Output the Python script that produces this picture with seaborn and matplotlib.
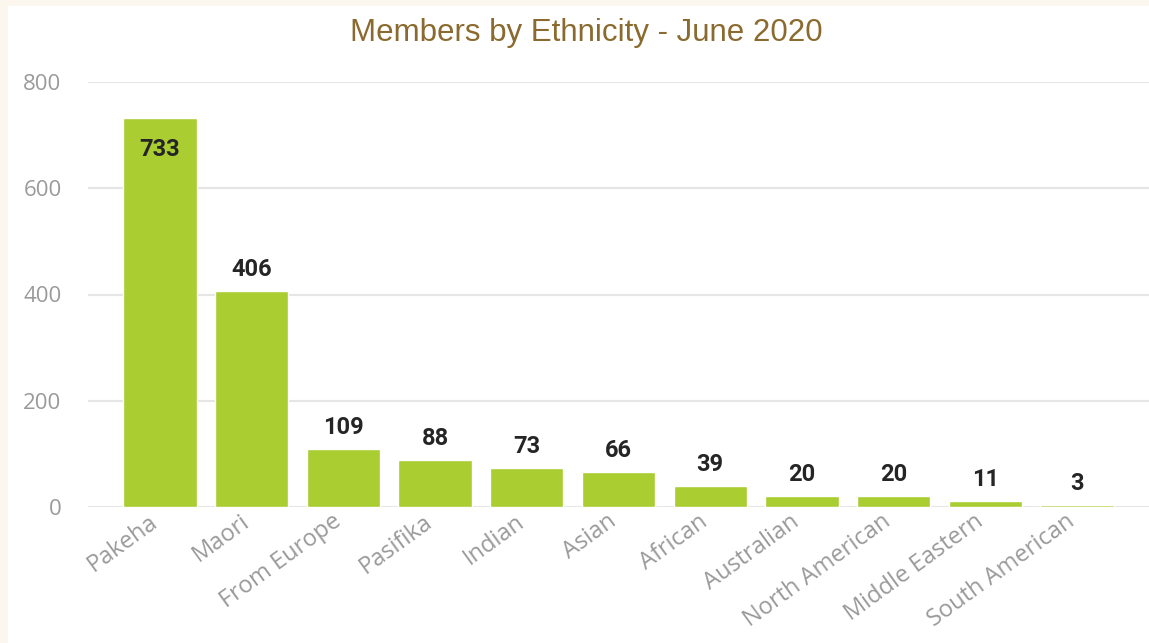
import matplotlib
matplotlib.use("Agg")
import matplotlib.pyplot as plt
from matplotlib.transforms import ScaledTranslation
import seaborn as sns
import pandas as pd

# Membership counts by ethnicity, June 2020
ethnicities = ["Pakeha", "Maori", "From Europe", "Pasifika", "Indian", "Asian",
               "African", "Australian", "North American", "Middle Eastern",
               "South American"]
members = [733, 406, 109, 88, 73, 66, 39, 20, 20, 11, 3]
y_ticks = [0, 200, 400, 600, 800]

df = pd.DataFrame({"ethnicity": ethnicities, "members": members})

sns.set_theme(style="white")
plt.rcParams["font.family"] = ["Open Sans", "DejaVu Sans"]

fig = plt.figure(figsize=(11.49, 6.43), dpi=100)
fig.patch.set_facecolor("white")

# soft cream frame along the top and left edges
fig.patches.append(plt.Rectangle((0, 0), 8 / 1149, 1, transform=fig.transFigure,
                                 facecolor="#FCF7EE", edgecolor="none", zorder=0))
fig.patches.append(plt.Rectangle((0, 1 - 6 / 643), 1, 6 / 643, transform=fig.transFigure,
                                 facecolor="#FCF7EE", edgecolor="none", zorder=0))

ax = fig.add_axes([88 / 1149, (643 - 507) / 643, (1149 - 88) / 1149, (507 - 82) / 643])
sns.barplot(data=df, x="ethnicity", y="members", color="#AACD32",
            saturation=1, width=0.8, ax=ax, zorder=3)

ax.set_xlim(-0.785, 10.785)
ax.set_ylim(0, 800)
ax.set_yticks(y_ticks)
ax.yaxis.grid(True, color="#E6E6E6", linewidth=1.5, zorder=0)
ax.set_axisbelow(True)
for s in ax.spines.values():
    s.set_visible(False)
ax.set_xlabel("")
ax.set_ylabel("")
ax.tick_params(axis="y", colors="#9A9A9A", labelsize=16, length=0, pad=19)
ax.tick_params(axis="x", colors="#9A9A9A", labelsize=17, length=0, pad=2)
shift = ScaledTranslation(-0.12, 0, fig.dpi_scale_trans)
for lab in ax.get_xticklabels():
    lab.set_rotation(36)
    lab.set_ha("right")
    lab.set_rotation_mode("anchor")
    lab.set_transform(lab.get_transform() + shift)

# value labels: inside the tallest bar, above the others
for i, v in enumerate(members):
    if v > 600:
        ax.annotate(str(v), (i, v), xytext=(0, -28), textcoords="offset points",
                    ha="center", va="baseline", fontsize=17, fontweight="bold",
                    color="#252525", family="Roboto")
    else:
        ax.annotate(str(v), (i, v), xytext=(0, 11), textcoords="offset points",
                    ha="center", va="baseline", fontsize=17, fontweight="bold",
                    color="#252525", family="Roboto")

fig.text(586 / 1149, 1 - 33 / 643, "Members by Ethnicity - June 2020",
         ha="center", va="center", fontsize=22.5, color="#8A6A2E",
         family="Liberation Sans")

fig.savefig("out.png", dpi=100)
